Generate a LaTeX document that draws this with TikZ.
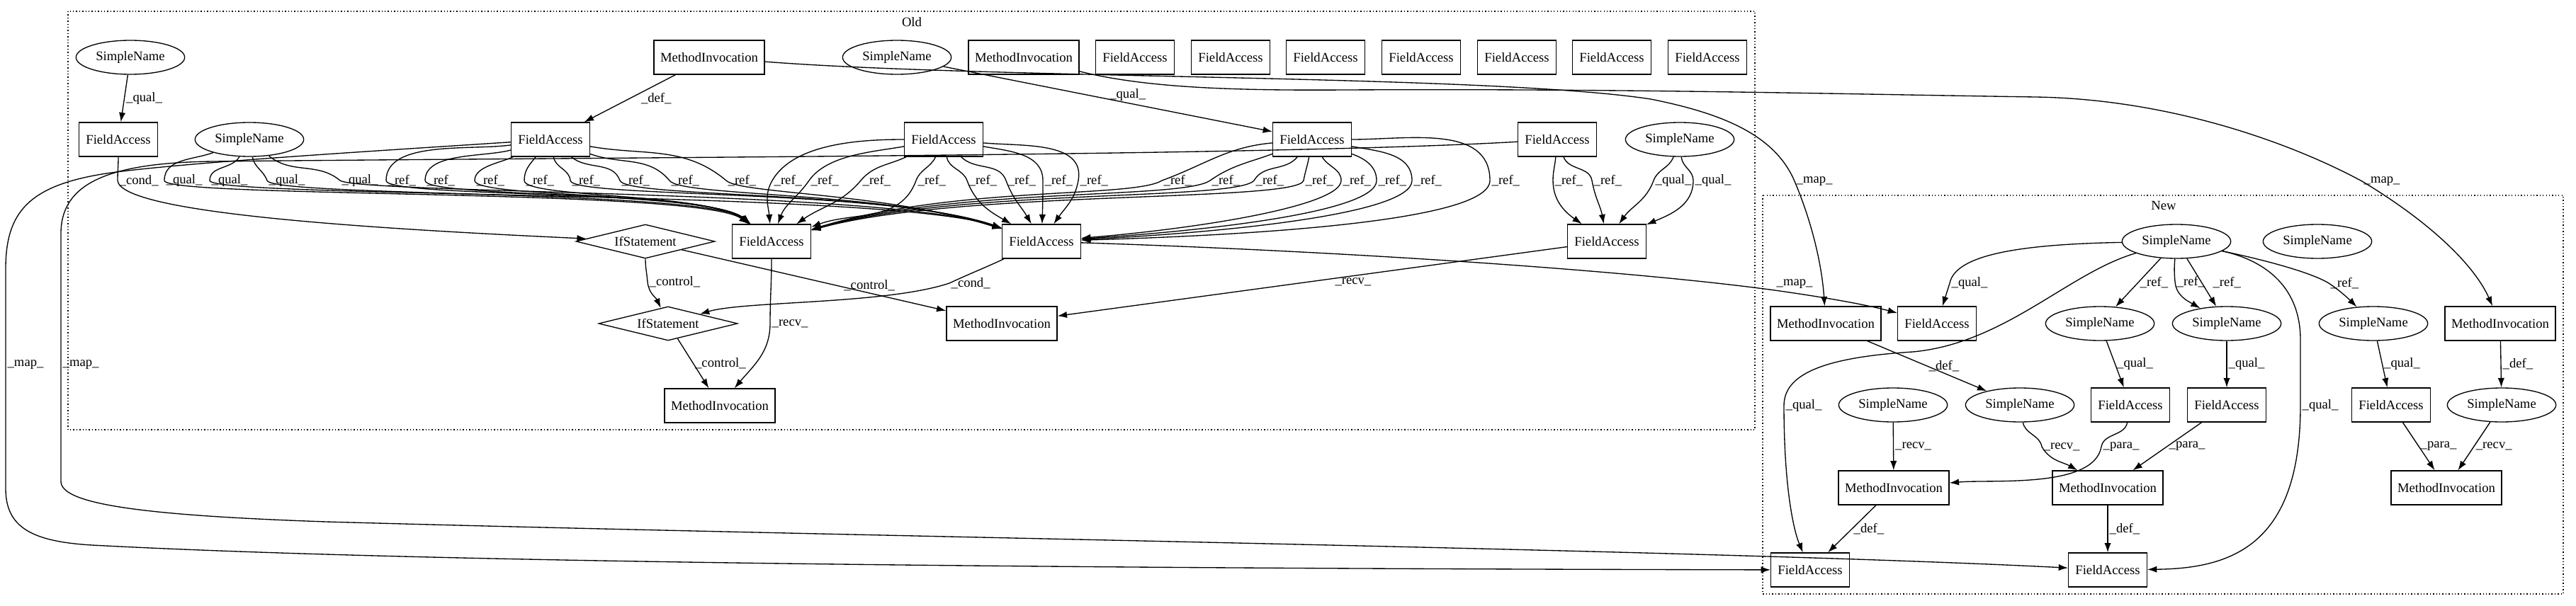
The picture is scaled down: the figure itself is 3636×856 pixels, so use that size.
\documentclass[tikz,border=0pt]{standalone}
\usepackage{fontspec}
\setmainfont{Liberation Serif}
\usetikzlibrary{arrows.meta, shapes.geometric}

\begin{document}
\begin{tikzpicture}[x=0.75pt, y=-0.75pt, line width=1pt,
    >={Latex[length=10pt, width=7pt]},
    every node/.style={font=\fontsize{14}{16}\selectfont},
    fa/.style={draw, rectangle, minimum width=83pt, minimum height=36pt, inner sep=0pt},
    mi/.style={draw, rectangle, minimum width=117pt, minimum height=36pt, inner sep=0pt},
    sn/.style={draw, ellipse, minimum width=115pt, minimum height=36pt, inner sep=0pt},
    ifs/.style={draw, diamond, shape aspect=4, minimum width=147pt, minimum height=36pt, inner sep=0pt},
    lbl/.style={anchor=west, inner sep=1.5pt},
    cluster/.style={draw, dash pattern=on 1pt off 2.3pt}]
    \useasboundingbox (0,0) rectangle (3636,856);

    % clusters
    \draw[cluster] (96,16) rectangle (2477,607);
    \draw[cluster] (2488,276) rectangle (3618,839);
    \node (oldlabel) at (1287,31) {Old};
    \node (newlabel) at (3054,290) {New};

    % Nodes (Old)
    \node[sn] (sn1) at (184,81) {SimpleName};
    \node[mi] (mi1) at (1001,81) {MethodInvocation};
    \node[sn] (sn2) at (1266,81) {SimpleName};
    \node[mi] (mi2) at (1445,81) {MethodInvocation};
    \node[fa] (fa1) at (1602,81) {FieldAccess};
    \node[fa] (fa2) at (1737,81) {FieldAccess};
    \node[fa] (fa3) at (1871,81) {FieldAccess};
    \node[fa] (fa4) at (2006,81) {FieldAccess};
    \node[fa] (fa5) at (2141,81) {FieldAccess};
    \node[fa] (fa6) at (2275,81) {FieldAccess};
    \node[fa] (fa7) at (2410,81) {FieldAccess};

    \node[fa] (fa8) at (167,197) {FieldAccess};
    \node[sn] (sn3) at (352,197) {SimpleName};
    \node[fa] (fa9) at (777,197) {FieldAccess};
    \node[fa] (fa10) at (1332,197) {FieldAccess};
    \node[fa] (fa11) at (1852,197) {FieldAccess};
    \node[fa] (fa12) at (2198,197) {FieldAccess};
    \node[sn] (sn4) at (2371,197) {SimpleName};

    \node[ifs] (if1) at (911,341) {IfStatement};
    \node[fa] (fa13) at (1089,341) {FieldAccess};
    \node[fa] (fa14) at (1470,341) {FieldAccess};
    \node[fa] (fa15) at (2268,341) {FieldAccess};

    \node[ifs] (if2) at (943,457) {IfStatement};
    \node[mi] (mi3) at (1414,457) {MethodInvocation};
    \node[mi] (mi4) at (1016,573) {MethodInvocation};

    % Nodes (New)
    \node[sn] (nsn1) at (3072,341) {SimpleName};
    \node[sn] (nsn2) at (3271,341) {SimpleName};

    \node[mi] (nmi1) at (2577,457) {MethodInvocation};
    \node[fa] (nfa1) at (2734,457) {FieldAccess};
    \node[sn] (nsn3) at (2964,457) {SimpleName};
    \node[sn] (nsn4) at (3143,457) {SimpleName};
    \node[sn] (nsn5) at (3350,457) {SimpleName};
    \node[mi] (nmi2) at (3529,457) {MethodInvocation};

    \node[sn] (nsn6) at (2672,572) {SimpleName};
    \node[sn] (nsn7) at (2851,572) {SimpleName};
    \node[fa] (nfa2) at (3007,572) {FieldAccess};
    \node[fa] (nfa3) at (3143,572) {FieldAccess};
    \node[fa] (nfa4) at (3375,572) {FieldAccess};
    \node[sn] (nsn8) at (3531,572) {SimpleName};

    \node[mi] (nmi3) at (2673,689) {MethodInvocation};
    \node[mi] (nmi4) at (2975,689) {MethodInvocation};
    \node[mi] (nmi5) at (3453,689) {MethodInvocation};

    \node[fa] (nfa5) at (2555,805) {FieldAccess};
    \node[fa] (nfa6) at (2975,805) {FieldAccess};

    % edges
    \draw[->]
        (sn1) edge node[lbl] {\_qual\_} (fa8)
        (mi1) edge node[lbl, xshift=10pt] {\_def\_} (fa9)
        (sn2) edge node[lbl, anchor=south, pos=.56] {\_qual\_} (fa11)
        (if1) edge node[lbl, anchor=south, pos=.71] {\_control\_} (mi3)
        (fa15) edge node[lbl, anchor=north, pos=.42] {\_recv\_} (mi3)
        (if2) edge node[lbl] {\_control\_} (mi4)
        (nsn1) edge node[lbl] {\_ref\_} (nsn3)
        (nsn1) edge node[lbl, xshift=10pt] {\_ref\_} (nsn4)
        (nmi1) edge node[lbl] {\_def\_} (nsn7)
        (nmi2) edge node[lbl] {\_def\_} (nsn8)
        (nsn3) edge node[lbl] {\_qual\_} (nfa2)
        (nsn4) edge node[lbl] {\_qual\_} (nfa3)
        (nsn5) edge node[lbl] {\_qual\_} (nfa4)
        (nsn6) edge node[lbl] {\_recv\_} (nmi3)
        (nfa3) edge node[lbl] {\_para\_} (nmi4)
        (nfa4) edge node[lbl] {\_para\_} (nmi5)
        (nsn8) edge node[lbl] {\_recv\_} (nmi5)
        (nmi3) edge node[lbl] {\_def\_} (nfa5)
        (nmi4) edge node[lbl] {\_def\_} (nfa6);

    \draw[->] (fa8) to[out=-90, in=90] (166,255) node[lbl] {\_cond\_}
        .. controls (170,300) and (500,322) .. (if1);
    \draw[->] (fa13) to[out=-90, in=90] (1087,457) node[lbl] {\_recv\_}
        to[out=-90, in=50] (mi4);
    \draw[->] (if1) to[out=-90, in=95] (914,398) node[lbl] {\_control\_}
        to[out=-85, in=115] (if2);
    \draw[->] (fa14) to[out=-155, in=25] (1340,400) node[lbl] {\_cond\_}
        .. controls (1250,430) and (1050,425) .. (if2);

    % qual and ref bundles
    \draw[->] (sn3) to[out=-160, in=90] (232,255) node[lbl] {\_qual\_}
        .. controls (232,280) and (990,266) .. (fa13);
    \draw[->] (sn3) to[out=-120, in=90] (296,255) node[lbl] {\_qual\_}
        .. controls (296,280) and (1250,268) .. (fa14);
    \draw[->] (sn3) to[out=-80, in=110] (377,255) node[lbl] {\_qual\_}
        .. controls (385,278) and (1000,268) .. (fa13);
    \draw[->] (sn3) to[out=-40, in=140] (480,255) node[lbl] {\_qual\_}
        .. controls (510,274) and (1250,268) .. (fa14);

    \draw[->] (fa9) to[out=188, in=90, looseness=.8] (545,255) node[lbl] {\_ref\_}
        .. controls (545,280) and (1000,266) .. (fa13);
    \draw[->] (fa9) to[out=195, in=90, looseness=.8] (600,255) node[lbl] {\_ref\_}
        .. controls (600,280) and (1000,268) .. (fa13);
    \draw[->] (fa9) to[out=205, in=90, looseness=.8] (670,255) node[lbl] {\_ref\_}
        .. controls (670,280) and (1000,270) .. (fa13);
    \draw[->] (fa9) to[out=-130, in=90] (740,255) node[lbl] {\_ref\_}
        .. controls (740,280) and (1000,272) .. (fa13);
    \draw[->] (fa9) to[out=-80, in=95] (805,255) node[lbl] {\_ref\_}
        .. controls (808,280) and (1250,266) .. (fa14);
    \draw[->] (fa9) to[out=-40, in=110] (875,255) node[lbl] {\_ref\_}
        .. controls (885,280) and (1250,268) .. (fa14);
    \draw[->] (fa9) to[out=-20, in=130] (945,255) node[lbl] {\_ref\_}
        .. controls (960,278) and (1250,270) .. (fa14);
    \draw[->] (fa9) to[out=-10, in=140] (1025,255) node[lbl] {\_ref\_}
        .. controls (1045,274) and (1250,272) .. (fa14);

    \draw[->] (fa10) to[out=180, in=60, looseness=.8] (1090,255) node[lbl] {\_ref\_}
        to[out=-120, in=95] (fa13);
    \draw[->] (fa10) to[out=190, in=55, looseness=.8] (1142,255) node[lbl] {\_ref\_}
        to[out=-125, in=70] (fa13);
    \draw[->] (fa10) to[out=205, in=50] (1215,255) node[lbl] {\_ref\_}
        to[out=-130, in=35] (fa13);
    \draw[->] (fa10) to[out=-115, in=70] (1293,255) node[lbl] {\_ref\_}
        to[out=-110, in=20] (fa13);
    \draw[->] (fa10) to[out=-80, in=110] (1365,255) node[lbl] {\_ref\_}
        to[out=-70, in=150] (fa14);
    \draw[->] (fa10) to[out=-45, in=110] (1420,255) node[lbl] {\_ref\_}
        to[out=-70, in=120] (fa14);
    \draw[->] (fa10) to[out=-10, in=90] (1472,255) node[lbl] {\_ref\_}
        to[out=-90, in=88] (fa14);
    \draw[->] (fa10) to[out=-5, in=80] (1522,255) node[lbl] {\_ref\_}
        to[out=-100, in=55] (fa14);

    \draw[->] (fa11) to[out=185, in=20] (1640,255) node[lbl] {\_ref\_}
        .. controls (1600,280) and (1350,262) .. (fa13);
    \draw[->] (fa11) to[out=200, in=35] (1708,255) node[lbl] {\_ref\_}
        .. controls (1670,282) and (1350,264) .. (fa13);
    \draw[->] (fa11) to[out=-130, in=60] (1770,255) node[lbl] {\_ref\_}
        .. controls (1745,284) and (1350,266) .. (fa13);
    \draw[->] (fa11) to[out=-100, in=80] (1840,255) node[lbl] {\_ref\_}
        .. controls (1832,286) and (1350,268) .. (fa13);
    \draw[->] (fa11) to[out=-60, in=90] (1893,255) node[lbl] {\_ref\_}
        .. controls (1893,290) and (1700,322) .. (fa14);
    \draw[->] (fa11) to[out=-20, in=90] (1943,255) node[lbl] {\_ref\_}
        .. controls (1943,300) and (1700,326) .. (fa14);
    \draw[->] (fa11) to[out=-10, in=90] (1993,255) node[lbl] {\_ref\_}
        .. controls (1993,305) and (1700,330) .. (fa14);
    \draw[->] (fa11) to[out=0, in=90] (2103,255) node[lbl] {\_ref\_}
        .. controls (2103,318) and (1700,334) .. (fa14);

    \draw[->] (fa12) to[out=-95, in=90] (2192,255) node[lbl] {\_ref\_}
        to[out=-90, in=145] (fa15);
    \draw[->] (fa12) to[out=-70, in=100] (2247,255) node[lbl] {\_ref\_}
        to[out=-80, in=100] (fa15);
    \draw[->] (sn4) to[out=-110, in=70] (2334,255) node[lbl] {\_qual\_}
        to[out=-110, in=55] (fa15);
    \draw[->] (sn4) to[out=-85, in=90] (2390,255) node[lbl] {\_qual\_}
        to[out=-90, in=23] (fa15);

    % map
    \draw[->] (mi1) .. controls (1400,112) and (2100,105) .. (2330,140)
        .. controls (2430,160) and (2505,190) .. (2533,256) node[lbl] {\_map\_}
        .. controls (2560,320) and (2572,380) .. (nmi1);
    \draw[->] (mi2) .. controls (1620,125) and (1750,128) .. (1900,127)
        .. controls (2300,125) and (2600,133) .. (2873,137)
        .. controls (3060,140) and (3230,200) .. (3334,256) node[lbl] {\_map\_}
        .. controls (3440,320) and (3495,380) .. (nmi2);
    \draw[->] (fa9) .. controls (550,212) and (250,230) .. (150,245)
        .. controls (40,262) and (8,300) .. (8,380) -- (8,515) node[lbl] {\_map\_}
        -- (8,690) .. controls (8,745) and (45,765) .. (130,770)
        .. controls (600,795) and (1500,803) .. (nfa5);
    \draw[->] (fa12) .. controls (1800,220) and (900,222) .. (300,228)
        .. controls (150,230) and (86,260) .. (86,330) -- (86,515) node[lbl] {\_map\_}
        -- (86,680) .. controls (86,712) and (200,728) .. (460,737)
        .. controls (1200,758) and (2400,776) .. (nfa6);
    \draw[->] (fa14) .. controls (1900,355) and (2300,382) .. (2505,410)
        node[lbl, anchor=south west] {\_map\_}
        .. controls (2590,422) and (2640,432) .. (nfa1);

    % New, curved
    \draw[->] (nsn1) .. controls (2850,345) and (2760,360) .. (2752,400) node[lbl] {\_qual\_}
        -- (nfa1);
    \draw[->] (nsn1) .. controls (2920,385) and (2830,485) .. (2700,497)
        .. controls (2570,505) and (2518,530) .. (2518,573) node[lbl] {\_qual\_}
        .. controls (2518,680) and (2530,745) .. (nfa5);
    \draw[->] (nsn1) to[out=-95, in=95] (3070,398) node[lbl] {\_ref\_}
        to[out=-85, in=150] (nsn4);
    \draw[->] (nsn1) .. controls (3200,368) and (3262,385) .. (3287,400) node[lbl] {\_ref\_}
        .. controls (3305,412) and (3318,425) .. (nsn5);
    \draw[->] (nsn1) .. controls (3190,366) and (3247,400) .. (3247,480) -- (3247,573)
        node[lbl] {\_qual\_}
        .. controls (3247,770) and (3150,803) .. (nfa6);
    \draw[->] (nsn7) to[out=-80, in=100] (2882,631) node[lbl] {\_recv\_}
        to[out=-60, in=150] (nmi4);
    \draw[->] (nfa2) to[out=-100, in=80] (2966,631) node[lbl] {\_para\_}
        to[out=-100, in=5, looseness=.7] (nmi3);

\end{tikzpicture}
\end{document}
